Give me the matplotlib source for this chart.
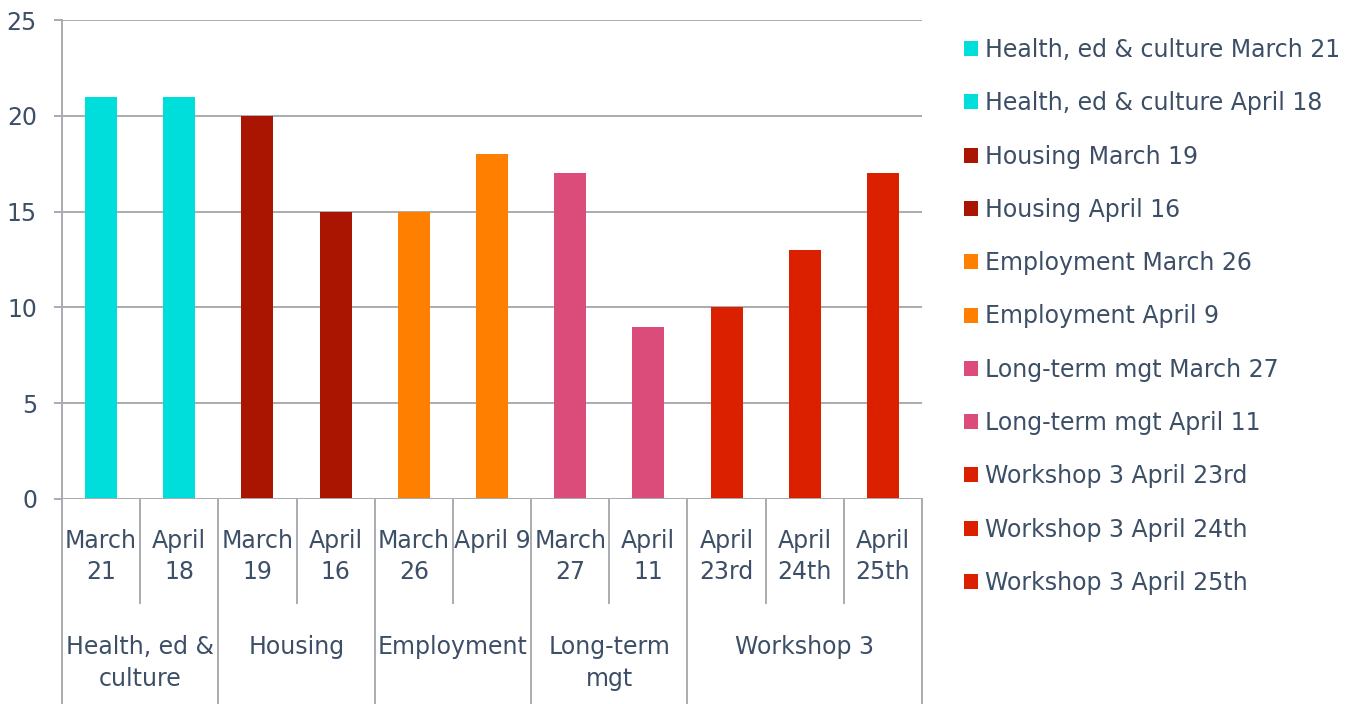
import matplotlib
matplotlib.use("Agg")
import matplotlib.pyplot as plt
import matplotlib.transforms as mtransforms

groups = ["Health, ed &\nculture", "Housing", "Employment", "Long-term\nmgt", "Workshop 3"]
group_names = ["Health, ed & culture", "Housing", "Employment", "Long-term mgt", "Workshop 3"]
dates = [["March 21", "April 18"], ["March 19", "April 16"], ["March 26", "April 9"],
         ["March 27", "April 11"], ["April 23rd", "April 24th", "April 25th"]]
date_ticks = [["March\n21", "April\n18"], ["March\n19", "April\n16"], ["March\n26", "April 9"],
              ["March\n27", "April\n11"], ["April\n23rd", "April\n24th", "April\n25th"]]
values = [[21, 21], [20, 15], [15, 18], [17, 9], [10, 13, 17]]
colors = ["#00DEDC", "#A91500", "#FF7F00", "#DB4C7A", "#DB2000"]

text_color = "#3D4F66"
grid_color = "#A8ABAF"
FONT = "DejaVu Sans"
FS = 17
plt.rcParams['font.family'] = [FONT]

fig = plt.figure(figsize=(13.57, 7.04), dpi=100)
ax = fig.add_axes([62/1357, 1-499/704, 860/1357, 479/704])

pos = 0
tick_pos, tick_lab = [], []
group_bounds = []
for g, (gname, gl, ds, dt, vs, c) in enumerate(zip(group_names, groups, dates, date_ticks, values, colors)):
    start = pos
    for d, t, v in zip(ds, dt, vs):
        ax.bar(pos, v, width=0.41, color=c, zorder=3, label=f"{gname} {d}")
        tick_pos.append(pos)
        tick_lab.append(t)
        pos += 1
    group_bounds.append((start - 0.5, pos - 0.5, gl))

n = pos
ax.set_xlim(-0.5, n - 0.5)
ax.set_ylim(0, 25)
ax.set_yticks([0, 5, 10, 15, 20, 25])
ax.yaxis.grid(True, color=grid_color, linewidth=1.4, zorder=0)
ax.set_axisbelow(True)
for s in ["top", "right", "bottom"]:
    ax.spines[s].set_visible(False)
ax.spines["left"].set_color(grid_color)
ax.spines["left"].set_linewidth(1.4)
ax.tick_params(axis="y", length=6, width=1.4, color=grid_color, pad=12,
               labelsize=FS, labelcolor=text_color)
ax.set_xticks([])

trans = mtransforms.blended_transform_factory(ax.transData, ax.transAxes)
ax.axhline(0, color=grid_color, linewidth=1.4, zorder=4)

inner_bot = -(603 - 499) / 479
outer_bot = -(704 - 499) / 479
for x, t in zip(tick_pos, tick_lab):
    ax.text(x, -0.062, t, transform=trans, ha="center", va="top", fontsize=FS,
            color=text_color, linespacing=1.4)
for (a, b, gl) in group_bounds:
    for k in range(int(a + 1.5), int(b + 0.5)):
        xs = k - 0.5
        ax.plot([xs, xs], [0, inner_bot], transform=trans, color=grid_color,
                linewidth=1.4, clip_on=False)
    ax.text((a + b) / 2, -0.284, gl, transform=trans, ha="center", va="top",
            fontsize=FS, color=text_color, linespacing=1.4)
edges = sorted(set([a for a, b, _ in group_bounds] + [b for a, b, _ in group_bounds]))
for xs in edges:
    ax.plot([xs, xs], [0, outer_bot], transform=trans, color=grid_color,
            linewidth=1.4, clip_on=False)

leg = ax.legend(loc="upper left", bbox_to_anchor=(964/1357, 1-38/704),
                bbox_transform=fig.transFigure, frameon=False, fontsize=FS,
                handlelength=0.6, handleheight=0.6, handletextpad=0.3,
                labelspacing=1.24, borderaxespad=0, borderpad=0)
for t in leg.get_texts():
    t.set_color(text_color)

fig.savefig("out.png", dpi=100)
